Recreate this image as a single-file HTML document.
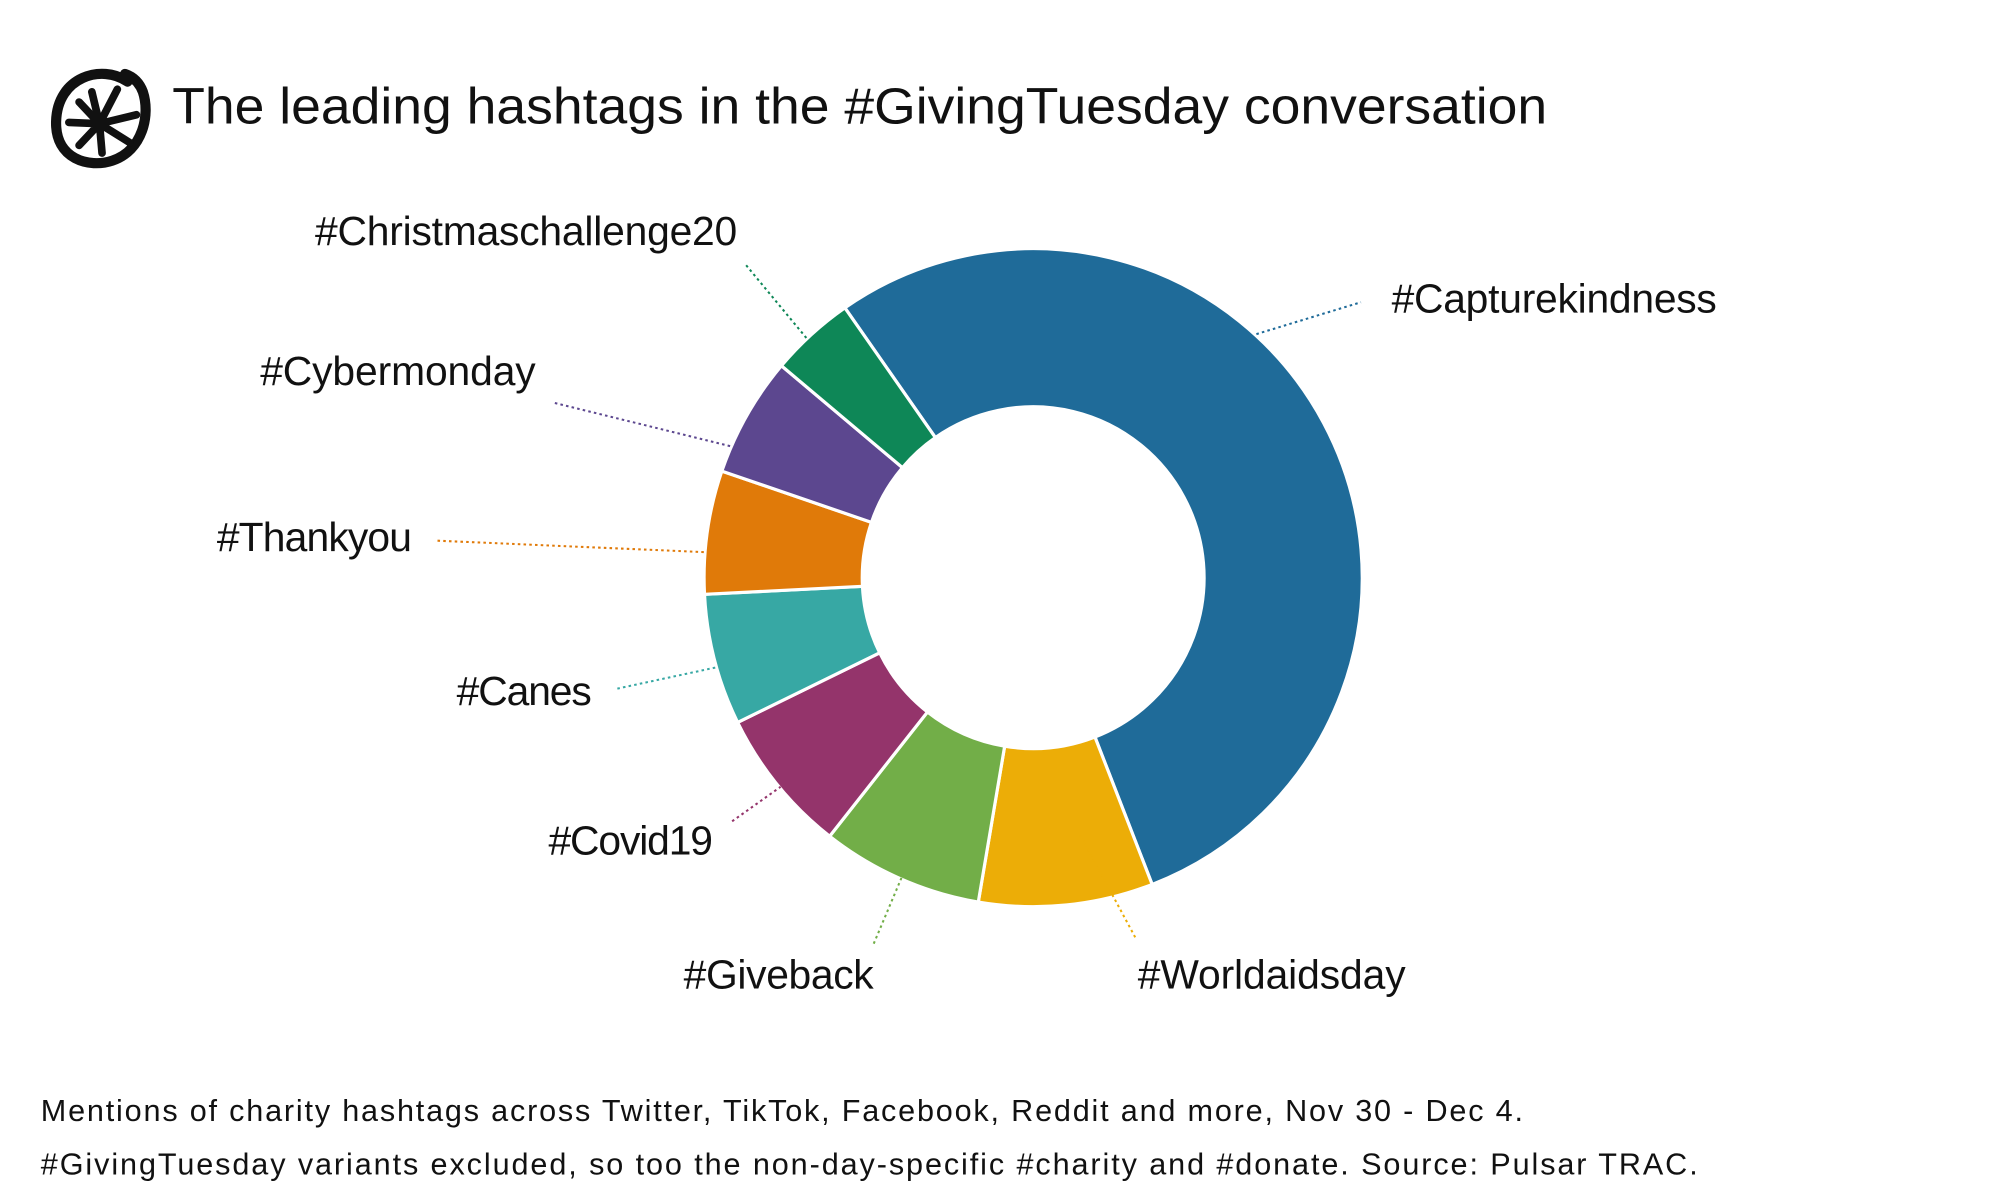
<!DOCTYPE html>
<html><head><meta charset="utf-8"><style>
html,body{margin:0;padding:0;background:#fff;}
svg{display:block;}
text{font-family:"Liberation Sans",sans-serif;fill:#111;}
</style></head><body>
<svg id="s" width="2000" height="1200" viewBox="0 0 1568 941" preserveAspectRatio="none" xmlns="http://www.w3.org/2000/svg">
<rect width="1568" height="941" fill="#fff"/>
<g fill="none" stroke="#111" stroke-linecap="round">
<path d="M100,64 C80,50 45,60 44,95 C43,125 70,132 88,126 C112,118 118,90 112,72 C109,64 104,60 98,58" stroke-width="8"/>
<path d="M78,97 L72,72 M78,97 L92,70 M78,97 L107,90 M78,97 L102,112 M78,97 L80,120 M78,97 L62,114 M78,97 L54,96 M78,97 L62,80" stroke-width="6"/>
</g>
<text x="135" y="97" font-size="40" textLength="1078" lengthAdjust="spacingAndGlyphs">The leading hashtags in the #GivingTuesday conversation</text>
<g id="donut"></g>
<g fill="none" stroke-width="1.6" stroke-dasharray="2,2.5">
<path d="M985,262 L1067,237" stroke="#1f6b99"/>
<path d="M585,208 L633,266" stroke="#0e8757"/>
<path d="M435,316 L573,350" stroke="#5c478f"/>
<path d="M343,424 L553,433" stroke="#e07a09"/>
<path d="M484,540 L563,523" stroke="#37a8a4"/>
<path d="M574,644 L612,617" stroke="#94346b"/>
<path d="M685,740 L720,657" stroke="#72ae48"/>
<path d="M890,735 L847,655" stroke="#ecad07"/>
</g>
<g font-size="32" lengthAdjust="spacingAndGlyphs">
<text x="247" y="192" textLength="331">#Christmaschallenge20</text>
<text x="1091" y="245" textLength="255">#Capturekindness</text>
<text x="204" y="302" textLength="216">#Cybermonday</text>
<text x="170" y="432" textLength="153">#Thankyou</text>
<text x="358" y="553" textLength="106">#Canes</text>
<text x="430" y="670" textLength="129">#Covid19</text>
<text x="536" y="775" textLength="149">#Giveback</text>
<text x="892" y="775" textLength="210">#Worldaidsday</text>
</g>
<g font-size="24" lengthAdjust="spacingAndGlyphs">
<text x="32" y="879" textLength="1162">Mentions of charity hashtags across Twitter, TikTok, Facebook, Reddit and more, Nov 30 - Dec 4.</text>
<text x="32" y="921" textLength="1299">#GivingTuesday variants excluded, so too the non-day-specific #charity and #donate. Source: Pulsar TRAC.</text>
</g>
</svg>
<script>
(function(){
var cx=810,cy=453,R=258,r=134;
var b=[325.1,518.8,549.6,578.2,603.9,627.1,648.9,670.1,685.1];
var c=["#1f6b99","#ecad07","#72ae48","#94346b","#37a8a4","#e07a09","#5c478f","#0e8757"];
function p(a,rad){a=a*Math.PI/180;return [cx+rad*Math.sin(a),cy-rad*Math.cos(a)];}
var g=document.getElementById("donut"),h="";
for(var i=0;i<8;i++){
var a0=b[i],a1=b[i+1],L=(a1-a0)>180?1:0;
var o0=p(a0,R),o1=p(a1,R),i1=p(a1,r),i0=p(a0,r);
h+='<path d="M'+o0+' A'+R+','+R+' 0 '+L+' 1 '+o1+' L'+i1+' A'+r+','+r+' 0 '+L+' 0 '+i0+' Z" fill="'+c[i]+'" stroke="#fff" stroke-width="2.5"/>';
}
g.innerHTML=h;
})();
</script>
</body></html>
